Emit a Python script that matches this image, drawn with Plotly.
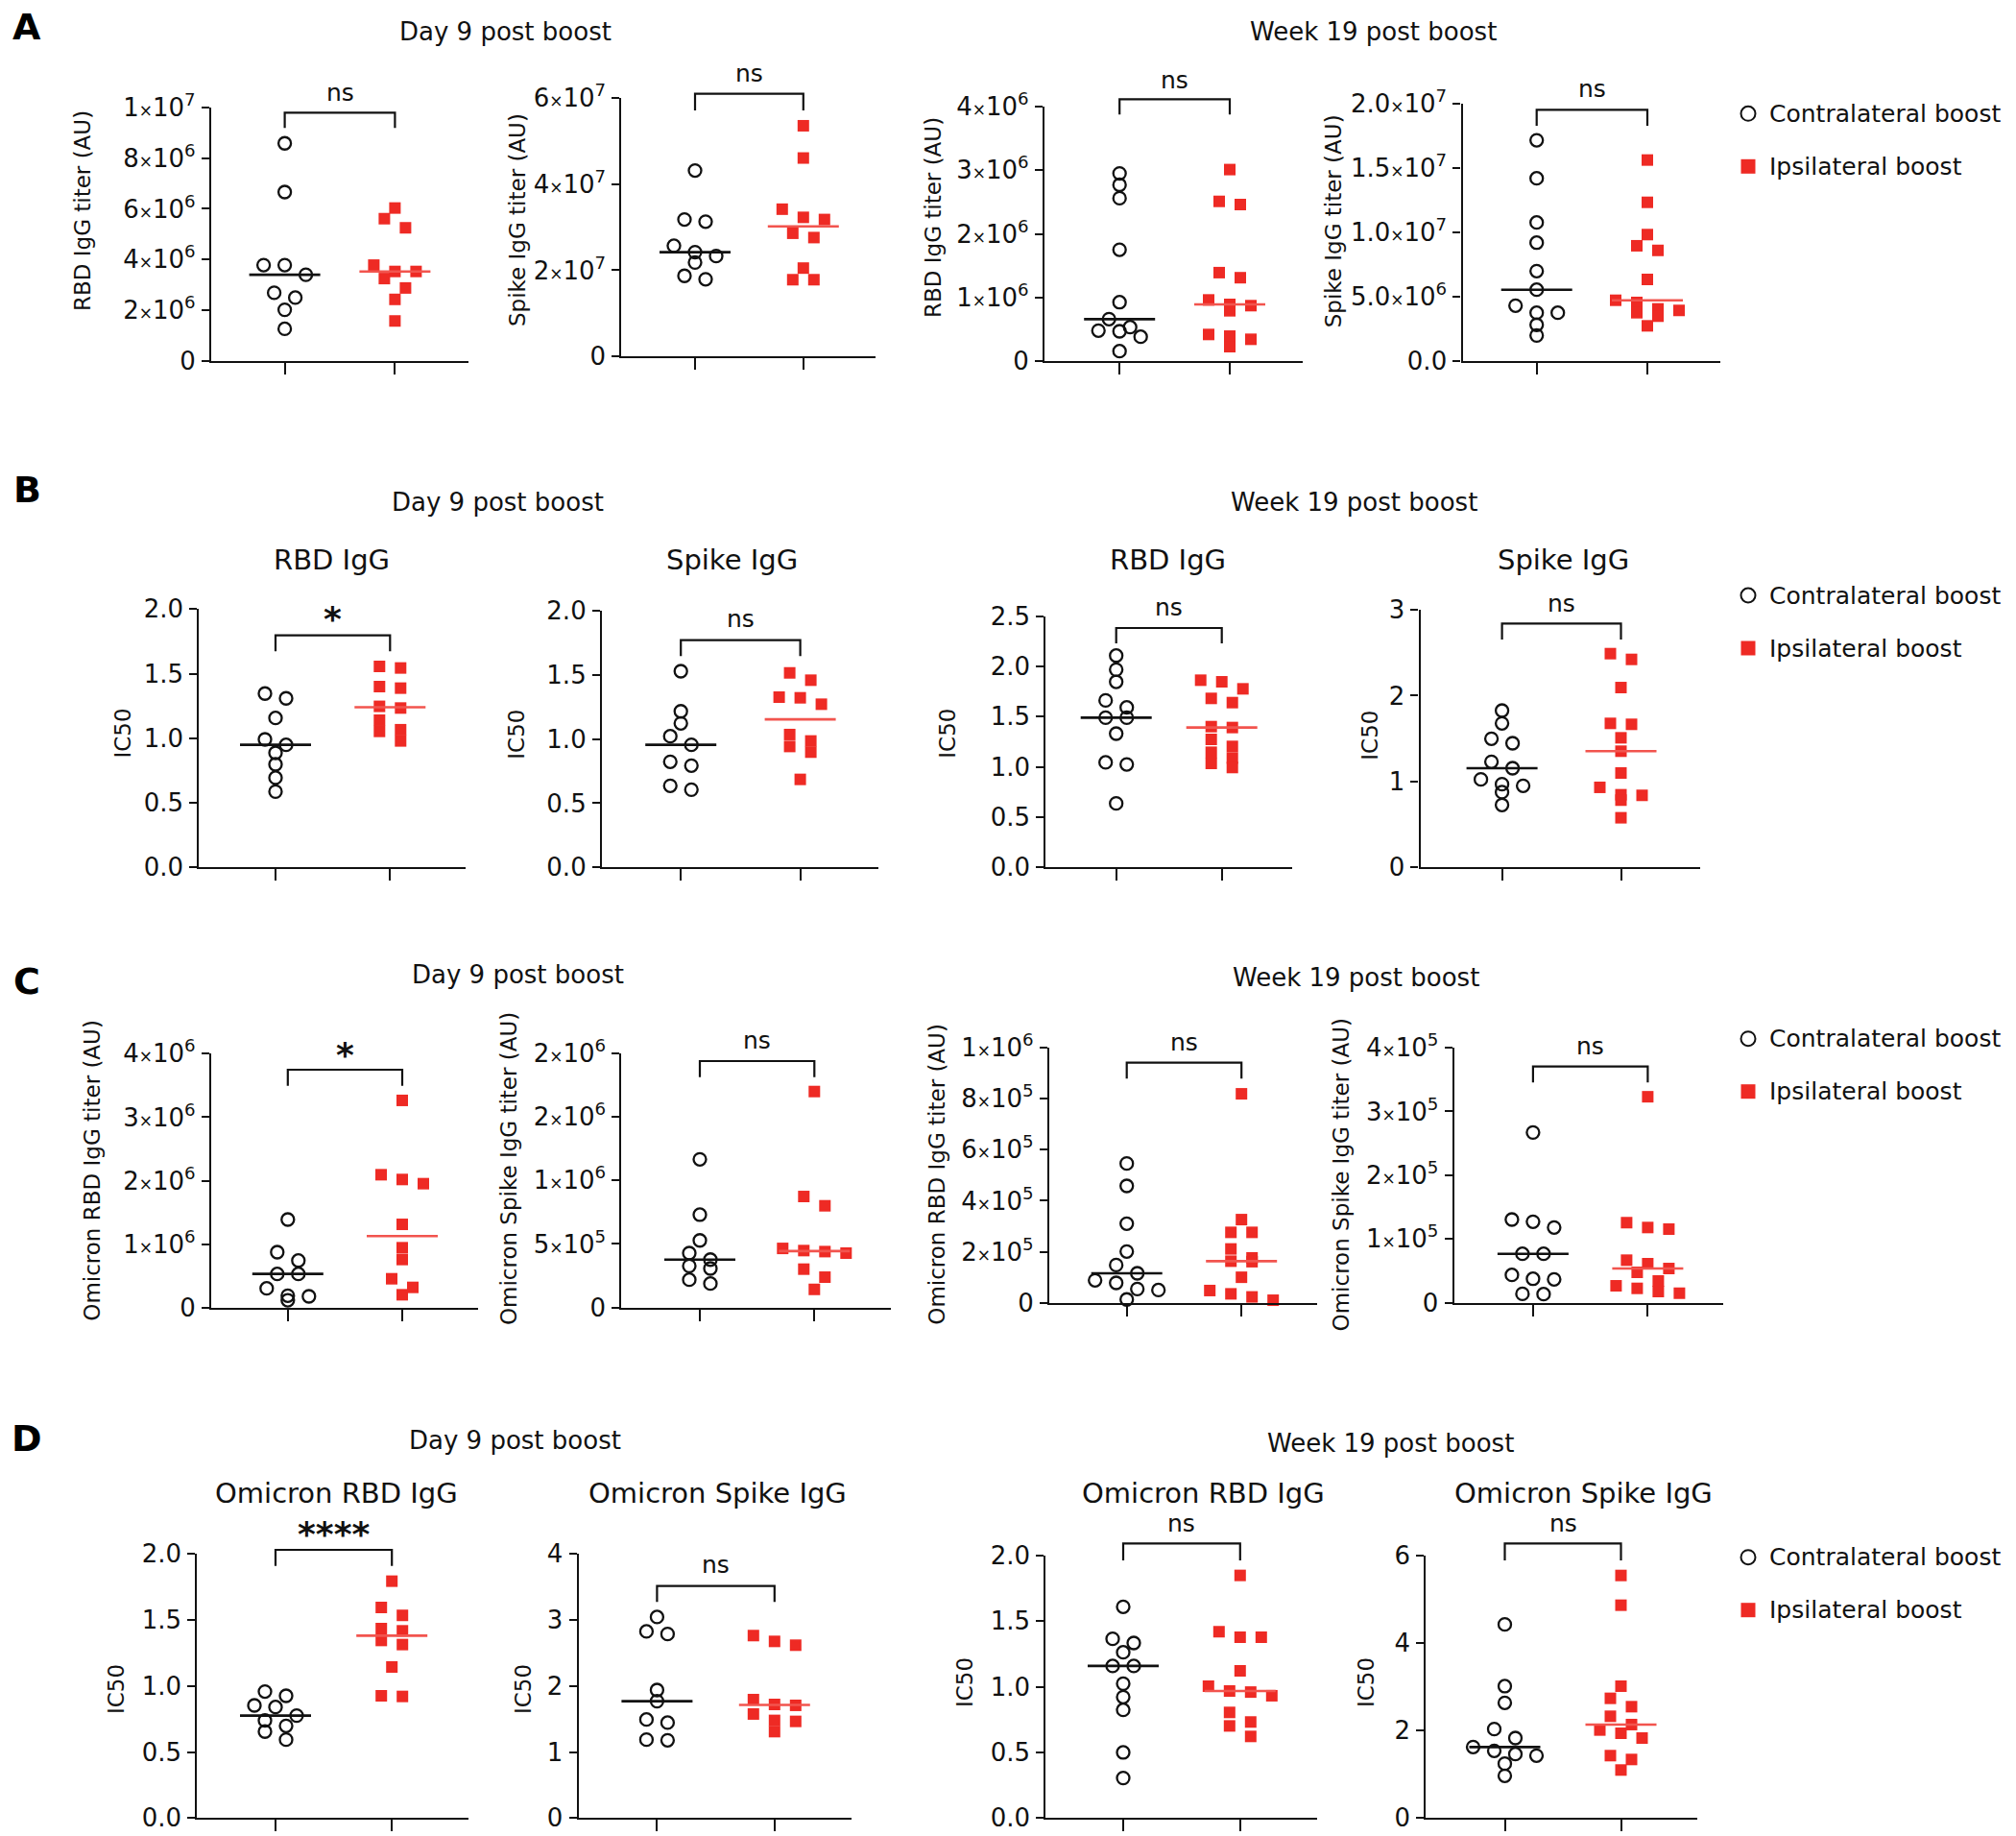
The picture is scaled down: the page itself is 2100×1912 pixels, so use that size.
import numpy as np
import plotly.graph_objects as go

W, H = 2100, 1912
FONT = "DejaVu Sans"
BLACK = "#111111"
RED = "#EE2A24"
RED_MED = "#F2544E"

groups = ["Contralateral boost", "Ipsilateral boost"]

# ---------------- Data ----------------
# Row A: IgG titers (AU)
a1_contra = [8.58e6, 6.66e6, 3.78e6, 3.78e6, 3.40e6, 2.69e6, 2.50e6, 2.02e6, 1.27e6]
a1_ipsi = [6.03e6, 5.61e6, 5.25e6, 3.78e6, 3.53e6, 3.53e6, 3.25e6, 2.88e6, 2.43e6, 1.58e6]
a2_contra = [4.32e7, 3.18e7, 3.13e7, 2.57e7, 2.42e7, 2.33e7, 2.18e7, 1.87e7, 1.79e7]
a2_ipsi = [5.36e7, 4.61e7, 3.42e7, 3.23e7, 3.18e7, 2.86e7, 2.76e7, 2.05e7, 1.78e7, 1.78e7]
a3_contra = [2.95e6, 2.77e6, 2.56e6, 1.75e6, 0.925e6, 0.659e6, 0.533e6, 0.478e6, 0.468e6, 0.382e6, 0.156e6]
a3_ipsi = [3.01e6, 2.51e6, 2.46e6, 1.39e6, 1.31e6, 0.961e6, 0.891e6, 0.871e6, 0.790e6, 0.418e6, 0.392e6,
           0.342e6, 0.226e6]
a4_contra = [1.718e7, 1.422e7, 1.078e7, 0.921e7, 0.700e7, 0.555e7, 0.431e7, 0.376e7, 0.376e7, 0.282e7, 0.199e7]
a4_ipsi = [1.564e7, 1.235e7, 0.984e7, 0.897e7, 0.861e7, 0.635e7, 0.473e7, 0.456e7, 0.406e7, 0.394e7, 0.376e7,
           0.349e7, 0.274e7]

# Row B: IC50
b1_contra = [1.346, 1.309, 1.157, 0.991, 0.949, 0.887, 0.798, 0.694, 0.587]
b1_ipsi = [1.556, 1.544, 1.400, 1.388, 1.247, 1.234, 1.140, 1.066, 1.053, 0.979]
b2_contra = [1.527, 1.215, 1.121, 1.021, 0.954, 0.822, 0.792, 0.635, 0.605]
b2_ipsi = [1.514, 1.457, 1.325, 1.320, 1.270, 1.034, 0.984, 0.941, 0.897, 0.685]
b3_contra = [2.108, 1.968, 1.847, 1.662, 1.592, 1.490, 1.490, 1.331, 1.045, 1.025, 0.637]
b3_ipsi = [1.863, 1.847, 1.777, 1.682, 1.640, 1.401, 1.392, 1.274, 1.204, 1.146, 1.089, 1.035, 0.994]
b4_contra = [1.826, 1.677, 1.498, 1.446, 1.230, 1.155, 1.025, 0.969, 0.950, 0.876, 0.727]
b4_ipsi = [2.489, 2.422, 2.094, 1.677, 1.666, 1.509, 1.353, 1.099, 0.932, 0.846, 0.839, 0.783, 0.578]

# Row C: Omicron IgG titers (AU)
c1_contra = [1.387e6, 0.873e6, 0.741e6, 0.530e6, 0.530e6, 0.303e6, 0.187e6, 0.177e6, 0.116e6]
c1_ipsi = [3.264e6, 2.093e6, 2.018e6, 1.952e6, 1.311e6, 0.943e6, 0.757e6, 0.454e6, 0.318e6, 0.202e6]
c2_contra = [1.165e6, 0.730e6, 0.528e6, 0.428e6, 0.377e6, 0.327e6, 0.307e6, 0.219e6, 0.189e6]
c2_ipsi = [1.698e6, 0.873e6, 0.800e6, 0.465e6, 0.448e6, 0.440e6, 0.428e6, 0.302e6, 0.239e6, 0.143e6]
c3_contra = [0.546e6, 0.458e6, 0.310e6, 0.201e6, 0.148e6, 0.1155e6, 0.088e6, 0.078e6, 0.054e6, 0.050e6, 0.013e6]
c3_ipsi = [0.819e6, 0.326e6, 0.276e6, 0.276e6, 0.211e6, 0.176e6, 0.163e6, 0.161e6, 0.100e6, 0.048e6, 0.035e6,
           0.023e6, 0.010e6]
c4_contra = [2.67e5, 1.305e5, 1.27e5, 1.18e5, 0.768e5, 0.768e5, 0.437e5, 0.376e5, 0.367e5, 0.14e5, 0.136e5]
c4_ipsi = [3.23e5, 1.256e5, 1.18e5, 1.155e5, 0.668e5, 0.613e5, 0.537e5, 0.477e5, 0.342e5, 0.266e5, 0.226e5,
           0.176e5, 0.15e5]

# Row D: Omicron IC50
d1_contra = [0.958, 0.926, 0.853, 0.841, 0.776, 0.739, 0.698, 0.655, 0.594]
d1_ipsi = [1.794, 1.595, 1.535, 1.435, 1.418, 1.345, 1.314, 1.144, 0.926, 0.921]
d2_contra = [3.045, 2.827, 2.788, 1.939, 1.770, 1.493, 1.445, 1.188, 1.178]
d2_ipsi = [2.764, 2.676, 2.618, 1.794, 1.721, 1.707, 1.576, 1.479, 1.464, 1.309]
d3_contra = [1.610, 1.366, 1.334, 1.263, 1.159, 1.159, 1.024, 0.922, 0.824, 0.500, 0.305]
d3_ipsi = [1.849, 1.420, 1.378, 1.378, 1.122, 1.005, 0.968, 0.960, 0.932, 0.805, 0.732, 0.702, 0.622]
d4_contra = [4.427, 3.015, 2.634, 2.034, 1.829, 1.624, 1.537, 1.463, 1.427, 1.244, 0.966]
d4_ipsi = [5.546, 4.866, 3.015, 2.737, 2.546, 2.327, 2.137, 2.012, 1.939, 1.829, 1.427, 1.339, 1.098]

# Significance labels
sig_a = ["ns", "ns", "ns", "ns"]
sig_b = ["*", "ns", "ns", "ns"]
sig_c = ["*", "ns", "ns", "ns"]
sig_d = ["****", "ns", "ns", "ns"]

# Tick values and labels (mantissa, exponent) for scientific ticks
ticks_a1 = [0, 2e6, 4e6, 6e6, 8e6, 1e7]
labels_a1 = ["0", ("2", 6), ("4", 6), ("6", 6), ("8", 6), ("1", 7)]
ticks_a2 = [0, 2e7, 4e7, 6e7]
labels_a2 = ["0", ("2", 7), ("4", 7), ("6", 7)]
ticks_a3 = [0, 1e6, 2e6, 3e6, 4e6]
labels_a3 = ["0", ("1", 6), ("2", 6), ("3", 6), ("4", 6)]
ticks_a4 = [0, 5e6, 1e7, 1.5e7, 2e7]
labels_a4 = ["0.0", ("5.0", 6), ("1.0", 7), ("1.5", 7), ("2.0", 7)]
ticks_ic2 = [0, 0.5, 1.0, 1.5, 2.0]
labels_ic2 = ["0.0", "0.5", "1.0", "1.5", "2.0"]
ticks_ic25 = [0, 0.5, 1.0, 1.5, 2.0, 2.5]
labels_ic25 = ["0.0", "0.5", "1.0", "1.5", "2.0", "2.5"]
ticks_ic3 = [0, 1, 2, 3]
labels_ic3 = ["0", "1", "2", "3"]
ticks_c1 = [0, 1e6, 2e6, 3e6, 4e6]
labels_c1 = ["0", ("1", 6), ("2", 6), ("3", 6), ("4", 6)]
ticks_c2 = [0, 5e5, 1e6, 1.5e6, 2e6]
labels_c2 = ["0", ("5", 5), ("1", 6), ("2", 6), ("2", 6)]
ticks_c3 = [0, 2e5, 4e5, 6e5, 8e5, 1e6]
labels_c3 = ["0", ("2", 5), ("4", 5), ("6", 5), ("8", 5), ("1", 6)]
ticks_c4 = [0, 1e5, 2e5, 3e5, 4e5]
labels_c4 = ["0", ("1", 5), ("2", 5), ("3", 5), ("4", 5)]
ticks_ic4 = [0, 1, 2, 3, 4]
labels_ic4 = ["0", "1", "2", "3", "4"]
ticks_ic6 = [0, 2, 4, 6]
labels_ic6 = ["0", "2", "4", "6"]

row_titles = ["Day 9 post boost", "Week 19 post boost"]
panel_letters = ["A", "B", "C", "D"]


def fmt_label(lab):
    if isinstance(lab, tuple):
        m, e = lab
        return m + "<span style='font-size:17px'>×</span>10<sup>" + str(e) + "</sup>"
    return lab


# ---------------- Layout configuration (pixel geometry) ----------------
# box = (left, right, top-tick y, zero y); cats = x pixel of the two groups
# yt = centre of y-axis title; br = (bracket top y, bracket foot y, label y)
panels = [
    dict(c=a1_contra, i=a1_ipsi, tv=ticks_a1, tt=labels_a1, ytitle="RBD IgG titer (AU)", sig=sig_a[0], sub=None,
         box=(220, 488, 111.7, 376), cats=(296.6, 411.4), yt=(86, 220), br=(117.3, 133.3, 96.7)),
    dict(c=a2_contra, i=a2_ipsi, tv=ticks_a2, tt=labels_a2, ytitle="Spike IgG titer (AU)", sig=sig_a[1], sub=None,
         box=(647.4, 912, 102.3, 371), cats=(724, 836.8), yt=(539, 229), br=(97.7, 115, 76.7)),
    dict(c=a3_contra, i=a3_ipsi, tv=ticks_a3, tt=labels_a3, ytitle="RBD IgG titer (AU)", sig=sig_a[2], sub=None,
         box=(1088, 1357, 111, 376), cats=(1166.2, 1281), yt=(972, 227), br=(103.3, 119.3, 83.3)),
    dict(c=a4_contra, i=a4_ipsi, tv=ticks_a4, tt=labels_a4, ytitle="Spike IgG titer (AU)", sig=sig_a[3], sub=None,
         box=(1523.5, 1792, 108.3, 376), cats=(1600.7, 1716), yt=(1388.6, 230.7), br=(114.3, 131, 92.7)),

    dict(c=b1_contra, i=b1_ipsi, tv=ticks_ic2, tt=labels_ic2, ytitle="IC50", sig=sig_b[0], sub=("RBD IgG", 346, 583),
         box=(207.3, 484.7, 634.3, 903.3), cats=(287, 406.3), yt=(127.6, 764), br=(661.7, 678.3, 645)),
    dict(c=b2_contra, i=b2_ipsi, tv=ticks_ic2, tt=labels_ic2, ytitle="IC50", sig=sig_b[1], sub=("Spike IgG", 762, 583),
         box=(627, 915, 635.7, 903.3), cats=(709.2, 833.6), yt=(537.7, 765), br=(666.7, 683.3, 645)),
    dict(c=b3_contra, i=b3_ipsi, tv=ticks_ic25, tt=labels_ic25, ytitle="IC50", sig=sig_b[2], sub=("RBD IgG", 1216, 583),
         box=(1089.3, 1346, 641.7, 903.3), cats=(1162.7, 1272.7), yt=(986.7, 764), br=(654, 670, 632.7)),
    dict(c=b4_contra, i=b4_ipsi, tv=ticks_ic3, tt=labels_ic3, ytitle="IC50", sig=sig_b[3], sub=("Spike IgG", 1628, 583),
         box=(1479.5, 1771.4, 635, 903.3), cats=(1564.6, 1688.5), yt=(1426.7, 766), br=(649.3, 666, 628.3)),

    dict(c=c1_contra, i=c1_ipsi, tv=ticks_c1, tt=labels_c1, ytitle="Omicron RBD IgG titer (AU)", sig=sig_c[0], sub=None,
         box=(220, 497.5, 1097.3, 1361.7), cats=(299.8, 419), yt=(95.7, 1219), br=(1114, 1130.7, 1098)),
    dict(c=c2_contra, i=c2_ipsi, tv=ticks_c2, tt=labels_c2, ytitle="Omicron Spike IgG titer (AU)", sig=sig_c[1], sub=None,
         box=(647.4, 928, 1096.7, 1361.7), cats=(729, 848.3), yt=(529.4, 1216.7), br=(1105, 1121.7, 1083.3)),
    dict(c=c3_contra, i=c3_ipsi, tv=ticks_c3, tt=labels_c3, ytitle="Omicron RBD IgG titer (AU)", sig=sig_c[2], sub=None,
         box=(1093, 1371.7, 1091, 1356.7), cats=(1173.7, 1293.2), yt=(975.7, 1223), br=(1106.7, 1123.3, 1085)),
    dict(c=c4_contra, i=c4_ipsi, tv=ticks_c4, tt=labels_c4, ytitle="Omicron Spike IgG titer (AU)", sig=sig_c[3], sub=None,
         box=(1514.7, 1794.9, 1091, 1356.7), cats=(1596.9, 1716.4), yt=(1397.4, 1223), br=(1110.7, 1127.3, 1089)),

    dict(c=d1_contra, i=d1_ipsi, tv=ticks_ic2, tt=labels_ic2, ytitle="IC50", sig=sig_d[0], sub=("Omicron RBD IgG", 350.8, 1555),
         box=(205.4, 488, 1618.3, 1893.3), cats=(287, 408.2), yt=(121, 1759), br=(1614, 1630.7, 1597)),
    dict(c=d2_contra, i=d2_ipsi, tv=ticks_ic4, tt=labels_ic4, ytitle="IC50", sig=sig_d[1], sub=("Omicron Spike IgG", 747.5, 1555),
         box=(602.7, 886.5, 1618.3, 1893.3), cats=(684.4, 806.8), yt=(545, 1759), br=(1651.7, 1668.3, 1629.3)),
    dict(c=d3_contra, i=d3_ipsi, tv=ticks_ic2, tt=labels_ic2, ytitle="IC50", sig=sig_d[2], sub=("Omicron RBD IgG", 1253, 1555),
         box=(1089.3, 1371.7, 1620, 1893.3), cats=(1170, 1291.8), yt=(1005, 1752), br=(1607.3, 1625, 1586)),
    dict(c=d4_contra, i=d4_ipsi, tv=ticks_ic6, tt=labels_ic6, ytitle="IC50", sig=sig_d[3], sub=("Omicron Spike IgG", 1649, 1555),
         box=(1485.4, 1767.7, 1620, 1893.3), cats=(1567.5, 1688.5), yt=(1423, 1752), br=(1607.3, 1625, 1586)),
]

row_title_pos = [((526, 33), (1430, 33)), ((518, 523), (1410.6, 523)),
                 ((539, 1015), (1412, 1018)), ((536, 1500), (1448.7, 1503))]
letter_pos = [(28, 28), (28, 510), (28, 1022), (28, 1498)]
legend_rows = [(118.3, 173.3), (620, 675), (1081.7, 1136.7), (1621.7, 1676.7)]
LEG_X = 1821


def px(x):
    return x / W


def py(y):
    return 1 - y / H


def swarm(values, px_per_unit, step, diam=11.0):
    """GraphPad-like scatter: points at (almost) the same height share a centred row."""
    vals = np.asarray(values, dtype=float)
    order = np.argsort(-vals, kind="stable")
    rows = []
    for idx in order:
        if rows and (vals[rows[-1][0]] - vals[idx]) * px_per_unit < diam:
            rows[-1].append(idx)
        else:
            rows.append([idx])
    offs = np.zeros(len(vals))
    for r in rows:
        n = len(r)
        for k, idx in enumerate(r):
            offs[idx] = (k - (n - 1) / 2) * step
    return offs


fig = go.Figure()
shapes = []
annots = []
layout_axes = {}

for k, p in enumerate(panels, start=1):
    sfx = "" if k == 1 else str(k)
    xa, ya = "x" + sfx, "y" + sfx
    L, R, T, B = p["box"]
    c0, c1 = p["cats"]
    unit = c1 - c0
    xmin, xmax = (L - c0) / unit, (R - c0) / unit
    top = max(p["tv"])
    ppu = (B - T) / top
    step = 22.0 / unit
    hw = 37.0 / unit

    for gi, vals in enumerate([p["c"], p["i"]]):
        offs = swarm(vals, ppu, step)
        if gi == 0:
            marker = dict(symbol="circle-open", size=13, color=BLACK, line=dict(width=2.3, color=BLACK))
            medcol = BLACK
        else:
            marker = dict(symbol="square", size=12, color=RED, line=dict(width=0))
            medcol = RED_MED
        fig.add_trace(go.Scatter(x=gi + offs, y=vals, mode="markers", marker=marker, name=groups[gi],
                                 xaxis=xa, yaxis=ya, cliponaxis=False, showlegend=False))
        med = float(np.median(vals))
        fig.add_trace(go.Scatter(x=[gi - hw, gi + hw], y=[med, med], mode="lines",
                                 line=dict(color=medcol, width=2.6), xaxis=xa, yaxis=ya,
                                 showlegend=False, hoverinfo="skip", cliponaxis=False))

    layout_axes["xaxis" + sfx] = dict(domain=[px(L), px(R)], range=[xmin, xmax], anchor=ya, automargin=False,
                                      showline=True, linewidth=2.2, linecolor=BLACK, showgrid=False,
                                      zeroline=False, tickvals=[0, 1], ticktext=["", ""], ticks="outside",
                                      ticklen=12, tickwidth=2.2, tickcolor=BLACK, fixedrange=True)
    layout_axes["yaxis" + sfx] = dict(domain=[py(B), py(T)], range=[0, top], anchor=xa, automargin=False,
                                      showline=True, linewidth=2.2, linecolor=BLACK, showgrid=False,
                                      zeroline=False, tickvals=p["tv"], ticktext=[fmt_label(t) for t in p["tt"]],
                                      ticks="outside", ticklen=8, tickwidth=2.2, tickcolor=BLACK,
                                      ticklabelstandoff=1,
                                      tickfont=dict(family=FONT, size=26, color=BLACK), fixedrange=True)

    # y-axis title
    annots.append(dict(x=px(p["yt"][0]), y=py(p["yt"][1]), xref="paper", yref="paper", text=p["ytitle"],
                       textangle=-90, showarrow=False, xanchor="center", yanchor="middle",
                       font=dict(family=FONT, size=23, color=BLACK)))
    # significance bracket
    bt, bb, ty = p["br"]
    path = "M {a},{b} L {a},{c} L {d},{c} L {d},{b}".format(a=px(c0), b=py(bb), c=py(bt), d=px(c1))
    shapes.append(dict(type="path", path=path, xref="paper", yref="paper",
                       line=dict(color=BLACK, width=2.2)))
    sig = p["sig"]
    if sig == "ns":
        sfont = dict(family=FONT, size=25, color=BLACK)
        stext = sig
    else:
        sfont = dict(family=FONT, size=36, color=BLACK)
        stext = "<b>" + sig + "</b>"
    annots.append(dict(x=px((c0 + c1) / 2), y=py(ty), xref="paper", yref="paper", text=stext,
                       showarrow=False, xanchor="center", yanchor="middle", font=sfont))
    # subplot title
    if p["sub"] is not None:
        t, sx, sy = p["sub"]
        annots.append(dict(x=px(sx), y=py(sy), xref="paper", yref="paper", text=t, showarrow=False,
                           xanchor="center", yanchor="middle", font=dict(family=FONT, size=29, color=BLACK)))

# Row titles and panel letters
for r in range(4):
    for j in range(2):
        x, y = row_title_pos[r][j]
        annots.append(dict(x=px(x), y=py(y), xref="paper", yref="paper", text=row_titles[j], showarrow=False,
                           xanchor="center", yanchor="middle", font=dict(family=FONT, size=26, color=BLACK)))
    lx, ly = letter_pos[r]
    annots.append(dict(x=px(lx), y=py(ly), xref="paper", yref="paper", text="<b>" + panel_letters[r] + "</b>",
                       showarrow=False, xanchor="center", yanchor="middle",
                       font=dict(family=FONT, size=38, color="black")))

# Legends (one per row)
for yc, ys in legend_rows:
    rr = 7.5
    shapes.append(dict(type="circle", xref="paper", yref="paper", x0=px(LEG_X - rr), x1=px(LEG_X + rr),
                       y0=py(yc + rr), y1=py(yc - rr), line=dict(color=BLACK, width=2), fillcolor="white"))
    sq = 7.5
    shapes.append(dict(type="rect", xref="paper", yref="paper", x0=px(LEG_X - sq), x1=px(LEG_X + sq),
                       y0=py(ys + sq), y1=py(ys - sq), line=dict(width=0), fillcolor=RED))
    for txt, yy in ((groups[0], yc), (groups[1], ys)):
        annots.append(dict(x=px(LEG_X + 20), y=py(yy), xref="paper", yref="paper", text=txt, showarrow=False,
                           xanchor="left", yanchor="middle", font=dict(family=FONT, size=25, color=BLACK)))

fig.update_layout(width=W, height=H, autosize=False,
                  margin=dict(l=0, r=0, t=0, b=0, pad=0, autoexpand=False),
                  paper_bgcolor="white", plot_bgcolor="white", showlegend=False,
                  font=dict(family=FONT, color=BLACK), shapes=shapes, annotations=annots,
                  hovermode="closest", **layout_axes)

fig.write_html("out.html", config={"displayModeBar": False},
               post_script="document.body.style.margin='0px';document.body.style.overflow='hidden';")
